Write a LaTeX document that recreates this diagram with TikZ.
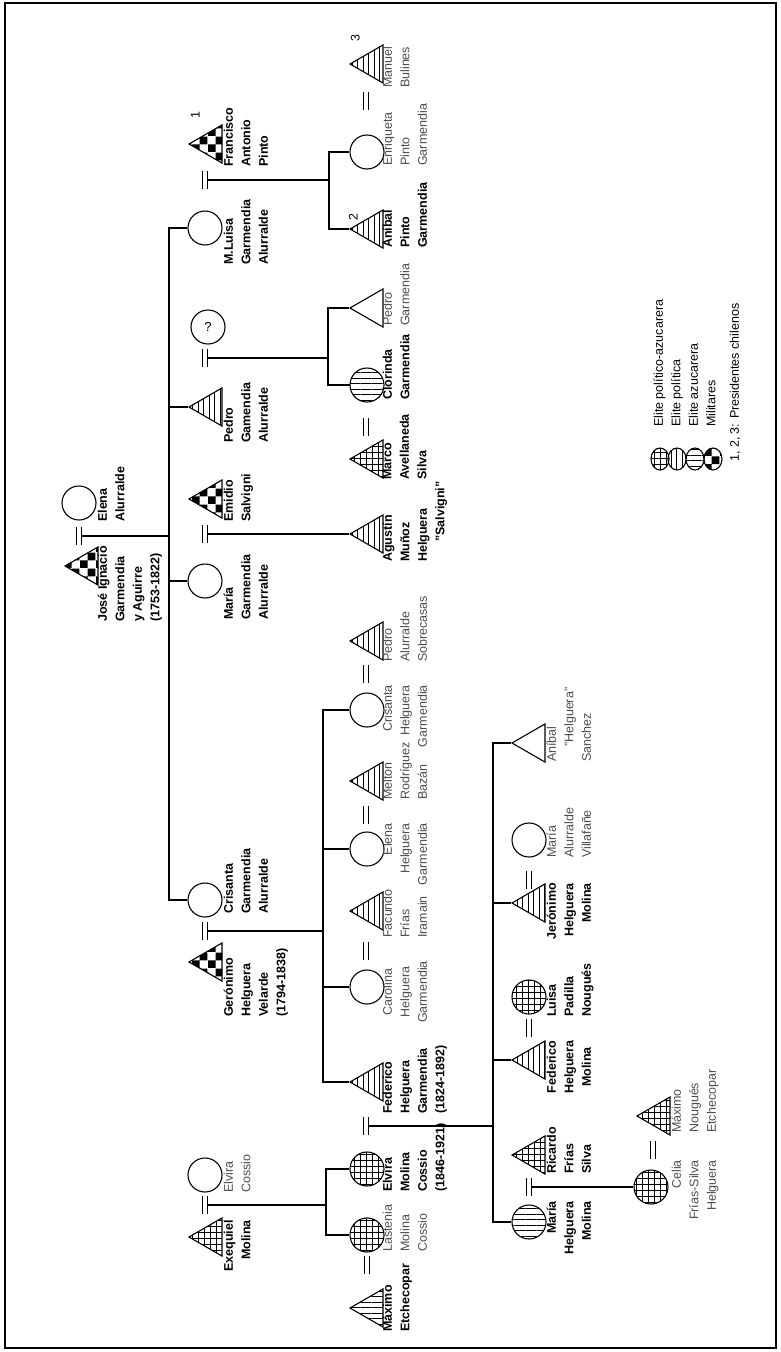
\documentclass[tikz,border=0pt]{standalone}
\usepackage{fontspec}
\setmainfont{Liberation Sans}
\usetikzlibrary{shapes.geometric, patterns, patterns.meta}

% coarse checkerboard for the military
\pgfdeclarepatternformonly{checkers}{\pgfqpoint{0pt}{0pt}}{\pgfqpoint{16pt}{16pt}}{\pgfqpoint{16pt}{16pt}}{%
  \pgfpathrectangle{\pgfqpoint{0pt}{0pt}}{\pgfqpoint{8pt}{8pt}}%
  \pgfpathrectangle{\pgfqpoint{8pt}{8pt}}{\pgfqpoint{8pt}{8pt}}%
  \pgfusepath{fill}}

\tikzset{
  man/.style={draw, regular polygon, regular polygon sides=3, shape border rotate=90, minimum size=44pt, inner sep=0pt, line width=1.1pt},
  woman/.style={draw, circle, minimum size=34pt, inner sep=0pt, line width=1.1pt},
  key/.style={draw, ellipse, minimum width=18pt, minimum height=22pt, inner sep=0pt, line width=1.1pt},
  pol/.style={pattern={Lines[angle=90, distance=5.5pt, line width=1pt]}},
  azu/.style={pattern={Lines[angle=0, distance=5.5pt, line width=1pt]}},
  polazu/.style={pattern={Hatch[angle=0, distance=6pt, line width=0.9pt]}},
  mil/.style={pattern=checkers},
  txt/.style={rotate=90, inner sep=0pt, execute at begin node=\strut, font=\fontsize{12.5}{17.5}\selectfont},
  namebf/.style={txt, font=\bfseries\fontsize{12.5}{17.5}\selectfont},
  namerg/.style={txt, text=black!70},
  lft/.style={anchor=north west, align=left},
  rgt/.style={anchor=north east, align=right},
  ctr/.style={anchor=north, align=center},
  kin/.style={line width=1.2pt},
  wed/.pic={\draw[line width=1.4pt] (-2.5,-9) -- (-2.5,9) (2.5,-9) -- (2.5,9);}
}

\begin{document}
\begin{tikzpicture}[x=1pt, y=-1pt]
  \useasboundingbox (0,0) rectangle (781,1352);
  \draw[line width=1.5pt] (5,3) rectangle (776,1348);

  % first generation
  \node[man, mil] (jose) at (87,566) {};
  \node[woman] (elena) at (79,503) {};
  \node[namebf, lft] (jose-t) at (97.5,622) {José Ignacio\\Garmendia\\y Aguirre\\(1753-1822)};
  \node[namebf, lft] (elena-t) at (97.5,522) {Elena\\Alurralde};
  \coordinate (w0) at (79,536);
  \coordinate (j0) at (169,536);

  % Garmendia Alurralde children and spouses
  \node[woman] (mluisa) at (205,228) {};
  \node[man, mil] (francisco) at (211,144) {};
  \node[man, pol] (pedroga) at (211,407) {};
  \node[woman, font=\fontsize{13}{15}\selectfont] (qm) at (208,327) {?};
  \node[woman] (maria) at (205,581) {};
  \node[man, mil] (emidio) at (211,499) {};
  \node[woman] (crisanta) at (205,900) {};
  \node[man, mil] (geronimo) at (211,962) {};
  \node[woman] (elviracos) at (205,1175) {};
  \node[man, polazu] (exequiel) at (211,1237) {};

  \node[namebf, lft] (francisco-t) at (223.5,167) {Francisco\\Antonio\\Pinto};
  \node[namebf, lft] (mluisa-t) at (223.5,265) {M.Luisa\\Garmendia\\Alurralde};
  \node[namebf, lft] (pedroga-t) at (223.5,443) {Pedro\\Gamendia\\Alurralde};
  \node[namebf, lft] (emidio-t) at (223.5,522) {Emidio\\Salvigni};
  \node[namebf, lft] (maria-t) at (223.5,620) {María\\Garmendia\\Alurralde};
  \node[namebf, lft] (crisanta-t) at (223.5,914) {Crisanta\\Garmendia\\Alurralde};
  \node[namebf, lft] (geronimo-t) at (223.5,1017) {Gerónimo\\Helguera\\Velarde\\(1794-1838)};
  \node[namerg, lft] (elviracos-t) at (223.5,1193) {Elvira\\Cossio};
  \node[namebf, rgt] (exequiel-t) at (223.5,1220) {Exequiel\\Molina};
  \node[txt] (n1) at (196,115) {1};

  \coordinate (w1) at (205,180);
  \coordinate (w2) at (205,358);
  \coordinate (w3) at (205,534);
  \coordinate (w4) at (205,931);
  \coordinate (w5) at (205,1205);

  % third generation
  \node[man, pol] (manuel) at (372,64) {};
  \node[woman] (enriqueta) at (367,152) {};
  \node[man, pol] (anibalp) at (372,229) {};
  \node[man] (pedrog) at (372,308) {};
  \node[woman, azu] (clorinda) at (367,385) {};
  \node[man, polazu] (marco) at (372,459) {};
  \node[man, pol] (agustin) at (372,534) {};
  \node[man, pol] (pedroas) at (372,641) {};
  \node[woman] (crisantah) at (367,710) {};
  \node[man, pol] (melton) at (372,781) {};
  \node[woman] (elenah) at (367,849) {};
  \node[man, pol] (facundo) at (372,911) {};
  \node[woman] (carolina) at (367,987) {};
  \node[man, pol] (federicohg) at (372,1082) {};
  \node[woman, polazu] (elviram) at (367,1169) {};
  \node[woman, polazu] (lastenia) at (367,1235) {};
  \node[man, azu] (maximoe) at (372,1308) {};

  \node[namerg, lft] (manuel-t) at (382.5,88) {Manuel\\Bulines};
  \node[namerg, lft] (enriqueta-t) at (382.5,166) {Enriqueta\\Pinto\\Garmendia};
  \node[namebf, lft] (anibalp-t) at (382.5,248) {Aníbal\\Pinto\\Garmendia};
  \node[namerg, lft] (pedrog-t) at (382.5,326) {Pedro\\Garmendia};
  \node[namebf, lft] (clorinda-t) at (382.5,400) {Clorinda\\Garmendia};
  \node[namebf, lft] (marco-t) at (382.5,480) {Marco\\Avellaneda\\Silva};
  \node[namebf, lft] (agustin-t) at (382.5,562) {Agustín\\Muñoz\\Helguera\\\hspace*{20pt}"Salvigni"};
  \node[namerg, lft] (pedroas-t) at (382.5,662) {Pedro\\Alurralde\\Sobrecasas};
  \node[namerg, rgt] (crisantah-t) at (382.5,685) {Crisanta\\Helguera\\Garmendia};
  \node[namerg, lft] (melton-t) at (382.5,800) {Meltón\\Rodríguez\\Bazán};
  \node[namerg, rgt] (elenah-t) at (382.5,823) {Elena\\Helguera\\Garmendia};
  \node[namerg, lft] (facundo-t) at (382.5,938) {Facundo\\Frías\\Iramain};
  \node[namerg, ctr] (carolina-t) at (382.5,992) {Carolina\\Helguera\\Garmendia};
  \node[namebf, lft] (federicohg-t) at (382.5,1114) {Federico\\Helguera\\Garmendia\\(1824-1892)};
  \node[namebf, lft] (elviram-t) at (382.5,1192) {Elvira\\Molina\\Cossio\\(1846-1921)};
  \node[namerg, lft] (lastenia-t) at (382.5,1252) {Lastenia\\Molina\\Cossio};
  \node[namebf, lft] (maximoe-t) at (382.5,1332) {Máximo\\Etchecopar};
  \node[txt] (n2) at (354,217) {2};
  \node[txt] (n3) at (356,38) {3};

  \coordinate (w6) at (366,1126);

  % Helguera Molina children and spouses
  \node[man] (anibalh) at (534,743) {};
  \node[woman] (mariaav) at (529,840) {};
  \node[man, pol] (jeronimo) at (534,903) {};
  \node[woman, polazu] (luisa) at (529,997) {};
  \node[man, pol] (federicohm) at (534,1060) {};
  \node[man, polazu] (ricardo) at (534,1155) {};
  \node[woman, azu] (mariahm) at (529,1222) {};

  \node[namerg, lft] (anibalh-t) at (546.5,762) {Aníbal\\\hspace*{15pt}"Helguera"\\Sanchez};
  \node[namerg, lft] (mariaav-t) at (546.5,858) {María\\Alurralde\\Villafañe};
  \node[namebf, rgt] (jeronimo-t) at (546.5,883) {Jerónimo\\Helguera\\Molina};
  \node[namebf, lft] (luisa-t) at (546.5,1017) {Luisa\\Padilla\\Nougués};
  \node[namebf, ctr] (federicohm-t) at (546.5,1067) {Federico\\Helguera\\Molina};
  \node[namebf, lft] (ricardo-t) at (546.5,1174) {Ricardo\\Frías\\Silva};
  \node[namebf, rgt] (mariahm-t) at (546.5,1201) {María\\Helguera\\Molina};

  \coordinate (w7) at (529,1187);

  % last generation
  \node[woman, polazu] (celia) at (651,1187) {};
  \node[man, polazu] (maximon) at (659,1116) {};
  \node[namerg, rgt] (celia-t) at (671.5,1160) {Celia\\Frías-Silva\\Helguera};
  \node[namerg, lft] (maximon-t) at (671.5,1133) {Máximo\\Nougués\\Etchecopar};

  % marriages
  \foreach \w in {w0,w1,w2,w3,w4,w5,w6,w7} \pic at (\w) {wed};
  \foreach \p in {(366,101),(366,427),(366,674),(366,815),(366,951),(367,1265),(529,880),(529,1028),(653,1150)}
    \pic at \p {wed};

  % descent lines
  \draw[kin] ([xshift=2.5pt]w0) -- (j0);
  \draw[kin] (mluisa.west) -| (j0) |- (crisanta.west);
  \draw[kin] (j0 |- pedroga.corner 1) -- (pedroga.corner 1);
  \draw[kin] (j0 |- maria.west) -- (maria.west);

  \coordinate (j1) at (329,180);
  \draw[kin] ([xshift=2.5pt]w1) -- (j1);
  \draw[kin] (enriqueta.west) -| (j1) |- (anibalp.corner 1);

  \coordinate (j2) at (328,358);
  \draw[kin] ([xshift=2.5pt]w2) -- (j2);
  \draw[kin] (pedrog.corner 1) -| (j2) |- (clorinda.west);

  \draw[kin] ([xshift=2.5pt]w3) -- (agustin.corner 1);

  \coordinate (j3) at (323,931);
  \draw[kin] ([xshift=2.5pt]w4) -- (j3);
  \draw[kin] (crisantah.west) -| (j3) |- (federicohg.corner 1);
  \draw[kin] (j3 |- elenah.west) -- (elenah.west);
  \draw[kin] (j3 |- carolina.west) -- (carolina.west);

  \coordinate (j4) at (326,1205);
  \draw[kin] ([xshift=2.5pt]w5) -- (j4);
  \draw[kin] (elviram.west) -| (j4) |- (lastenia.west);

  \coordinate (j5) at (493,1126);
  \draw[kin] ([xshift=2.5pt]w6) -- (j5);
  \draw[kin] (anibalh.corner 1) -| (j5) |- (mariahm.west);
  \draw[kin] (j5 |- jeronimo.corner 1) -- (jeronimo.corner 1);
  \draw[kin] (j5 |- federicohm.corner 1) -- (federicohm.corner 1);

  \draw[kin] ([xshift=2.5pt]w7) -- (celia.west);

  % legend
  \node[key, polazu] (k1) at (660,459) {};
  \node[key, pol] (k2) at (677,459) {};
  \node[key, azu] (k3) at (695,459) {};
  \node[key, mil] (k4) at (713,459) {};
  \node[txt, lft] (keys) at (653.5,427) {Elite político-azucarera\\Elite política\\Elite azucarera\\Militares};
  \node[txt, lft] (pres) at (726.5,462) {1, 2, 3: Presidentes chilenos};
\end{tikzpicture}
\end{document}
